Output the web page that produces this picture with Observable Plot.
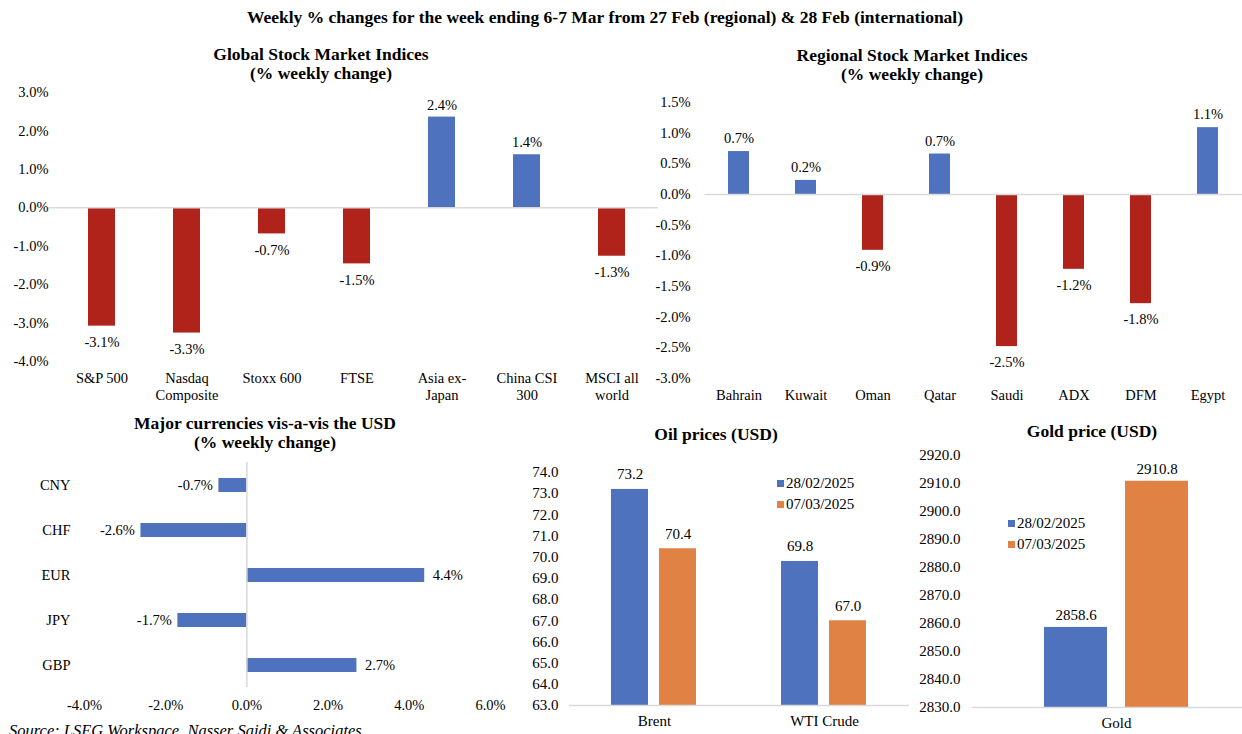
<!DOCTYPE html>
<html><head><meta charset="utf-8">
<script src="https://cdn.jsdelivr.net/npm/d3@7"></script>
<script src="https://cdn.jsdelivr.net/npm/@observablehq/plot@0.6"></script>
<style>
body{margin:0;background:#fff;font-family:"Liberation Serif",serif;}
#root{position:relative;width:1242px;height:734px;overflow:hidden;background:#fff;}
.ttl{position:absolute;font-weight:bold;text-align:center;font-size:17.5px;line-height:19px;color:#000;white-space:pre;}
.leg{position:absolute;font-size:15px;line-height:21px;color:#000;}
.leg span.sw{display:inline-block;width:7px;height:7px;margin-right:2px;vertical-align:1px;}
.src{position:absolute;font-style:italic;font-size:16.5px;color:#000;white-space:nowrap;}
</style></head><body><div id="root"></div>
<script>
// ---------- data ----------
const mainTitle = "Weekly % changes for the week ending 6-7 Mar from 27 Feb (regional) & 28 Feb (international)";
const source = "Source: LSEG Workspace, Nasser Saidi & Associates";

const globalTitle = "Global Stock Market Indices\n(% weekly change)";
const globalNames = ["S&P 500","Nasdaq\nComposite","Stoxx 600","FTSE","Asia ex-\nJapan","China CSI\n300","MSCI all\nworld"];
const globalValues = [-3.08,-3.26,-0.68,-1.46,2.36,1.38,-1.26];
const globalTicks = [-4,-3,-2,-1,0,1,2,3];

const regionalTitle = "Regional Stock Market Indices\n(% weekly change)";
const regionalNames = ["Bahrain","Kuwait","Oman","Qatar","Saudi","ADX","DFM","Egypt"];
const regionalValues = [0.70,0.23,-0.91,0.66,-2.48,-1.22,-1.78,1.09];
const regionalTicks = [-3,-2.5,-2,-1.5,-1,-0.5,0,0.5,1,1.5];

const fxTitle = "Major currencies vis-a-vis the USD\n(% weekly change)";
const fxNames = ["CNY","CHF","EUR","JPY","GBP"];
const fxValues = [-0.69,-2.61,4.38,-1.70,2.71];
const fxTicks = [-4,-2,0,2,4,6];

const seriesNames = ["28/02/2025","07/03/2025"];

const oilTitle = "Oil prices (USD)";
const oilNames = ["Brent","WTI Crude"];
const oilFeb = [73.2,69.8];
const oilMar = [70.4,67.0];
const oilTicks = [63,64,65,66,67,68,69,70,71,72,73,74];

const goldTitle = "Gold price (USD)";
const goldNames = ["Gold"];
const goldFeb = [2858.6];
const goldMar = [2910.8];
const goldTicks = [2830,2840,2850,2860,2870,2880,2890,2900,2910,2920];

// ---------- style ----------
const BLUE = "#4E72BE", RED = "#B0231A", ORANGE = "#DF8244", GRID = "#D9D9D9";
const FONT = "Liberation Serif";
const root = document.getElementById("root");

function place(el, left, top){ el.style.position="absolute"; el.style.left=left+"px"; el.style.top=top+"px"; root.appendChild(el); }
function title(text, cx, top, size){
  const d = document.createElement("div"); d.className="ttl"; d.textContent=text;
  d.style.width="900px"; d.style.left=(cx-450)+"px"; d.style.top=top+"px";
  if (size) d.style.fontSize=size+"px";
  root.appendChild(d);
}
function legend(left, top){
  const d = document.createElement("div"); d.className="leg";
  const cols=[BLUE,ORANGE];
  d.innerHTML = seriesNames.map((s,i)=>`<div><span class="sw" style="background:${cols[i]}"></span>${s}</div>`).join("");
  d.style.left=left+"px"; d.style.top=top+"px"; root.appendChild(d);
}
const pct = d => d.toFixed(1)+"%";
const baseStyle = {fontFamily:FONT, fontSize:"14.5px", color:"#000", background:"transparent", overflow:"visible"};

// ---------- titles ----------
title(mainTitle, 605, 8, 17.5);
title(globalTitle, 321, 45);
title(regionalTitle, 912, 46);
title(fxTitle, 265, 414);
title(oilTitle, 716, 425);
title(goldTitle, 1092, 422);

// ---------- Global ----------
const gData = globalNames.map((n,i)=>({name:n, value:globalValues[i]}));
place(Plot.plot({
  width:660, height:330, marginTop:12, marginBottom:49, marginLeft:59.5, marginRight:5.5,
  style:baseStyle,
  x:{domain:globalNames, paddingInner:0.68, paddingOuter:0.34, label:null},
  y:{domain:[-4,3], label:null},
  marks:[
    Plot.barY(gData,{filter:d=>d.value<0, x:"name", y:"value", fill:RED}),
    Plot.barY(gData,{filter:d=>d.value>=0, x:"name", y:"value", fill:BLUE}),
    Plot.ruleY([0],{stroke:GRID, strokeWidth:1.5, insetLeft:-11, insetRight:-3}),
    Plot.text(gData,{filter:d=>d.value>=0, x:"name", y:"value", text:d=>pct(d.value), dy:-12, fontSize:14.5, fill:"#000"}),
    Plot.text(gData,{filter:d=>d.value<0, x:"name", y:"value", text:d=>pct(d.value), dy:16, fontSize:14.5, fill:"#000"}),
    Plot.axisY({ticks:globalTicks, tickFormat:pct, tickSize:0, tickPadding:11.5, label:null, fontSize:14.5}),
    Plot.axisX({tickSize:0, tickPadding:10, label:null, fontSize:14.5, lineHeight:1.15})
  ]
}), 0, 80);

// ---------- Regional ----------
const rData = regionalNames.map((n,i)=>({name:n, value:regionalValues[i]}));
place(Plot.plot({
  width:582, height:330, marginTop:22, marginBottom:32, marginLeft:44.5, marginRight:1.5,
  style:baseStyle,
  x:{domain:regionalNames, paddingInner:0.69, paddingOuter:0.345, label:null},
  y:{domain:[-3,1.5], label:null},
  marks:[
    Plot.barY(rData,{filter:d=>d.value<0, x:"name", y:"value", fill:RED}),
    Plot.barY(rData,{filter:d=>d.value>=0, x:"name", y:"value", fill:BLUE}),
    Plot.ruleY([0],{stroke:GRID, strokeWidth:1.5, insetRight:-1.5}),
    Plot.text(rData,{filter:d=>d.value>=0, x:"name", y:"value", text:d=>pct(d.value), dy:-13, fontSize:14.5, fill:"#000"}),
    Plot.text(rData,{filter:d=>d.value<0, x:"name", y:"value", text:d=>pct(d.value), dy:16, fontSize:14.5, fill:"#000"}),
    Plot.axisY({ticks:regionalTicks, tickFormat:pct, tickSize:0, tickPadding:14.5, label:null, fontSize:14.5}),
    Plot.axisX({tickSize:0, tickPadding:11, label:null, fontSize:14.5})
  ]
}), 660, 80);

// ---------- Currencies ----------
const cData = fxNames.map((n,i)=>({name:n, value:fxValues[i]}));
place(Plot.plot({
  width:520, height:310, marginTop:50, marginBottom:31, marginLeft:84, marginRight:30,
  style:baseStyle,
  y:{domain:fxNames, paddingInner:0.69, paddingOuter:0.345, label:null},
  x:{domain:[-4,6], label:null},
  marks:[
    Plot.barX(cData,{y:"name", x:"value", fill:BLUE}),
    Plot.ruleX([0],{stroke:GRID, strokeWidth:1.5, insetTop:2, insetBottom:2}),
    Plot.text(cData,{filter:d=>d.value>=0, y:"name", x:"value", text:d=>pct(d.value), dx:8, textAnchor:"start", fontSize:14.5, fill:"#000"}),
    Plot.text(cData,{filter:d=>d.value<0, y:"name", x:"value", text:d=>pct(d.value), dx:-6, textAnchor:"end", fontSize:14.5, fill:"#000"}),
    Plot.axisX({ticks:fxTicks, tickFormat:pct, tickSize:0, tickPadding:10, label:null, fontSize:14.5}),
    Plot.axisY({tickSize:0, tickPadding:14, label:null, fontSize:14.5})
  ]
}), 0, 410);

// ---------- Oil ----------
const oData = oilNames.flatMap((n,i)=>[{cat:n, series:seriesNames[0], value:oilFeb[i]},{cat:n, series:seriesNames[1], value:oilMar[i]}]);
place(Plot.plot({
  width:410, height:300, marginTop:22, marginBottom:45, marginLeft:58, marginRight:11,
  style:baseStyle,
  fx:{domain:oilNames, paddingInner:0, paddingOuter:0, label:null},
  x:{domain:seriesNames, paddingInner:0.224, paddingOuter:0.857, axis:null},
  y:{domain:[63,74], clamp:true, label:null},
  color:{domain:seriesNames, range:[BLUE,ORANGE]},
  marks:[
    Plot.barY(oData,{fx:"cat", x:"series", y:"value", fill:"series"}),
    Plot.ruleY([63],{stroke:GRID, strokeWidth:1.5}),
    Plot.text(oData,{fx:"cat", x:"series", y:"value", text:d=>d.value.toFixed(1), dy:-15, fontSize:15, fill:"#000"}),
    Plot.axisY({ticks:oilTicks, tickFormat:d=>d.toFixed(1), tickSize:0, tickPadding:11, label:null, fontSize:15}),
    Plot.axisFx({anchor:"bottom", tickSize:0, tickPadding:10, label:null, fontSize:15})
  ]
}), 510, 450);
legend(777, 473);

// ---------- Gold ----------
const auData = goldNames.flatMap((n,i)=>[{cat:n, series:seriesNames[0], value:goldFeb[i]},{cat:n, series:seriesNames[1], value:goldMar[i]}]);
place(Plot.plot({
  width:342, height:300, marginTop:15, marginBottom:33, marginLeft:90, marginRight:0,
  style:baseStyle,
  fx:{domain:goldNames, paddingInner:0, paddingOuter:0, label:null},
  x:{domain:seriesNames, paddingInner:0.22, paddingOuter:0.647, axis:null},
  y:{domain:[2830,2920], clamp:true, label:null},
  color:{domain:seriesNames, range:[BLUE,ORANGE]},
  marks:[
    Plot.barY(auData,{fx:"cat", x:"series", y:"value", fill:"series"}),
    Plot.ruleY([2830],{stroke:GRID, strokeWidth:1.5, insetLeft:-18}),
    Plot.text(auData,{fx:"cat", x:"series", y:"value", text:d=>d.value.toFixed(1), dy:-12, fontSize:15, fill:"#000"}),
    Plot.axisY({ticks:goldTicks, tickFormat:d=>d.toFixed(1), tickSize:0, tickPadding:30, label:null, fontSize:15}),
    Plot.axisFx({anchor:"bottom", tickSize:0, tickPadding:10, label:null, fontSize:15})
  ]
}), 900, 440);
legend(1008, 513);

// ---------- source ----------
const s = document.createElement("div"); s.className="src"; s.textContent=source;
s.style.left="9px"; s.style.top="721px"; root.appendChild(s);
</script></body></html>
